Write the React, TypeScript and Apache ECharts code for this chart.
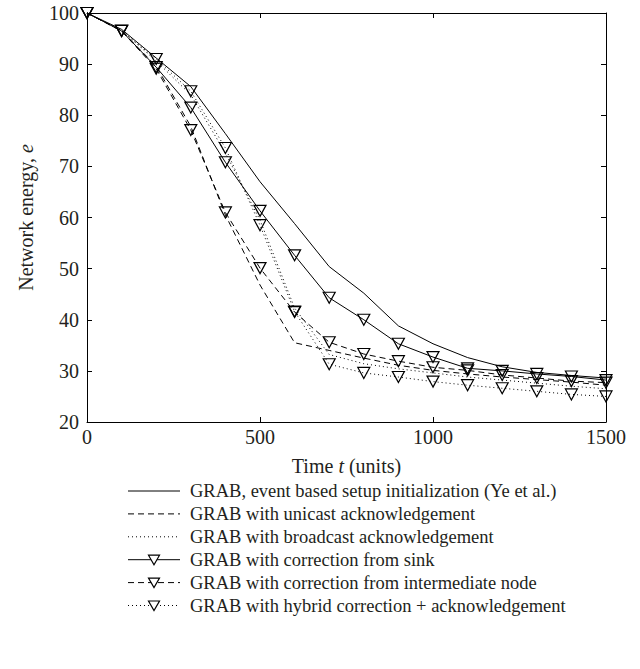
import React, { useEffect, useRef } from "react";
import * as echarts from "echarts";

const times = [0, 100, 200, 300, 400, 500, 600, 700, 800, 900, 1000, 1100, 1200, 1300, 1400, 1500];

const yeEtAl = [100, 96.8, 91.2, 85.6, 76.4, 67, 58.8, 50.4, 45.2, 38.8, 35.3, 32.6, 30.8, 29.7, 29.1, 28.6];
const unicastAck = [100, 96.5, 89.6, 77.8, 60.5, 46.8, 35.5, 34.0, 32.5, 31.1, 30.1, 29.4, 28.8, 28.3, 27.8, 27.2];
const broadcastAck = [100, 96.6, 90.6, 84.0, 72.6, 59.5, 42.3, 33.2, 31.4, 30.4, 29.6, 28.8, 28.2, 27.6, 27.0, 26.5];
const sinkCorrection = [100, 96.5, 89.4, 81.5, 70.8, 61.3, 52.6, 44.3, 40.0, 35.3, 32.7, 30.5, 30.0, 29.4, 28.9, 28.2];
const intermediateCorrection = [100, 96.5, 89.1, 77.1, 61.0, 50.1, 41.5, 35.6, 33.3, 31.9, 30.7, 30.1, 29.2, 28.6, 28.0, 27.7];
const hybridCorrection = [100, 96.5, 91.0, 84.7, 73.6, 58.5, 41.6, 31.3, 29.6, 28.8, 27.9, 27.2, 26.6, 26.0, 25.4, 25.0];

const legendNames = [
  "GRAB, event based setup initialization (Ye et al.)",
  "GRAB with unicast acknowledgement",
  "GRAB with broadcast acknowledgement",
  "GRAB with correction from sink",
  "GRAB with correction from intermediate node",
  "GRAB with hybrid correction + acknowledgement",
];

const xTicks = [0, 500, 1000, 1500];
const yTicks = [20, 30, 40, 50, 60, 70, 80, 90, 100];

const FONT = "'Liberation Serif', 'DejaVu Serif', serif";
const INK = "#231f20";
const AXIS_FS = 20;
const LEGEND_FS = 18.5;

const DASHED = [6, 4];
const DOTTED = [1, 3];

export default function App() {
  const ref = useRef<HTMLDivElement>(null);

  useEffect(() => {
    if (!ref.current) return;
    const chart = echarts.init(ref.current, undefined, { renderer: "svg" });

    const pair = (vals: number[]) => times.map((t, i) => [t, vals[i]]);
    const styles: any[] = ["solid", DASHED, DOTTED, "solid", DASHED, DOTTED];
    const markers = [false, false, false, true, true, true];
    const allVals = [yeEtAl, unicastAck, broadcastAck, sinkCorrection, intermediateCorrection, hybridCorrection];

    const series = allVals.map((vals, k) => ({
      name: legendNames[k],
      type: "line",
      data: pair(vals),
      clip: false,
      showSymbol: markers[k],
      symbol: markers[k] ? "triangle" : "none",
      symbolRotate: 180,
      symbolSize: [12, 11],
      lineStyle: { color: "#000", width: 1, type: styles[k] },
      itemStyle: { color: "rgba(255,255,255,0)", borderColor: "#000", borderWidth: 1.2 },
      emphasis: { disabled: true },
      z: markers[k] ? 3 : 2,
    }));

    // legend drawn with graphic elements
    const legendTop = 491;
    const rowGap = 22.9;
    const x0 = 128;
    const x1 = 180;
    const legendGraphics: any[] = [];
    legendNames.forEach((name, k) => {
      const y = legendTop + k * rowGap;
      const st = styles[k];
      legendGraphics.push({
        type: "line",
        shape: { x1: x0, y1: y, x2: x1, y2: y },
        style: {
          stroke: "#000",
          lineWidth: 1,
          lineDash: st === "solid" ? null : st,
        },
        silent: true,
      });
      if (markers[k]) {
        const cx = (x0 + x1) / 2;
        legendGraphics.push({
          type: "polygon",
          shape: {
            points: [
              [cx - 5.5, y - 4.5],
              [cx + 5.5, y - 4.5],
              [cx, y + 5],
            ],
          },
          style: { fill: "#fff", stroke: "#000", lineWidth: 1.2 },
          silent: true,
        });
      }
      legendGraphics.push({
        type: "text",
        x: 190,
        y,
        style: {
          text: name,
          fontFamily: FONT,
          fontSize: LEGEND_FS,
          fill: INK,
          verticalAlign: "middle",
          align: "left",
        },
        silent: true,
      });
    });

    const axisCommon = {
      axisLine: { show: true, onZero: false, lineStyle: { color: "#000", width: 1 } },
      axisTick: { show: true, inside: true, length: 5, lineStyle: { color: "#000" } },
      splitLine: { show: false },
    };

    chart.setOption({
      animation: false,
      backgroundColor: "#fff",
      textStyle: { fontFamily: FONT, color: INK },
      grid: { left: 87, right: 34, top: 13, bottom: 247, containLabel: false },
      xAxis: [
        {
          type: "value",
          min: 0,
          max: 1500,
          interval: 500,
          ...axisCommon,
          axisLabel: {
            fontFamily: FONT,
            fontSize: AXIS_FS,
            color: INK,
            margin: 5,
            formatter: (v: number) => (xTicks.includes(v) ? String(v) : ""),
          },
          name: "Time {i|t} (units)",
          nameLocation: "middle",
          nameGap: 34,
          nameTextStyle: {
            fontFamily: FONT,
            fontSize: AXIS_FS,
            color: INK,
            rich: { i: { fontStyle: "italic", fontFamily: FONT, fontSize: AXIS_FS, color: INK } },
          },
        },
        {
          type: "value",
          position: "top",
          min: 0,
          max: 1500,
          interval: 500,
          ...axisCommon,
          axisLabel: { show: false },
        },
      ],
      yAxis: [
        {
          type: "value",
          min: 20,
          max: 100,
          interval: 10,
          ...axisCommon,
          axisLabel: {
            fontFamily: FONT,
            fontSize: AXIS_FS,
            color: INK,
            margin: 8,
            formatter: (v: number) => (yTicks.includes(v) ? String(v) : ""),
          },
          name: "Network energy, {i|e}",
          nameLocation: "middle",
          nameGap: 51,
          nameTextStyle: {
            fontFamily: FONT,
            fontSize: AXIS_FS,
            color: INK,
            rich: { i: { fontStyle: "italic", fontFamily: FONT, fontSize: AXIS_FS, color: INK } },
          },
        },
        {
          type: "value",
          position: "right",
          min: 20,
          max: 100,
          interval: 10,
          ...axisCommon,
          axisLabel: { show: false },
        },
      ],
      graphic: legendGraphics,
      series,
    });

    return () => chart.dispose();
  }, []);

  return (
    <div
      ref={ref}
      style={{ position: "absolute", left: 0, top: 0, width: 640, height: 669 }}
    />
  );
}
